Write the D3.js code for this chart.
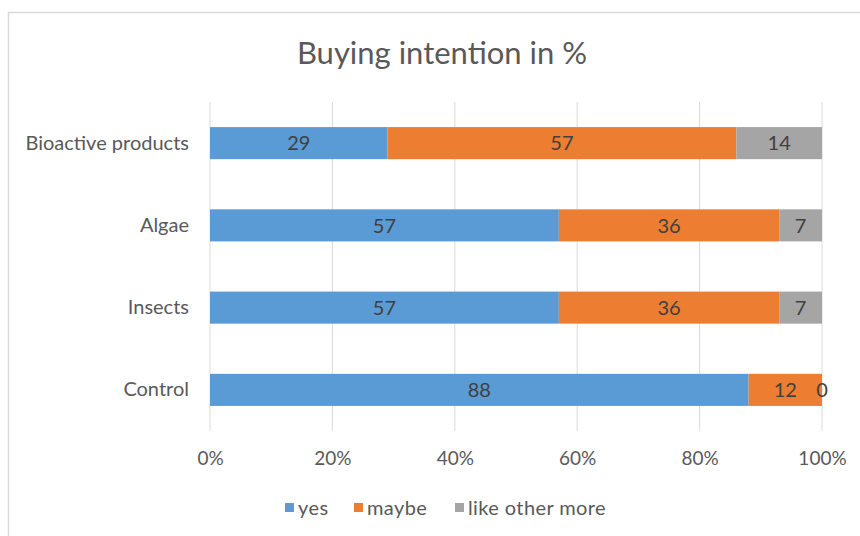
<!DOCTYPE html>
<html>
<head>
<meta charset="utf-8">
<script src="https://cdn.jsdelivr.net/npm/d3@7"></script>
<style>
  html, body { margin: 0; padding: 0; background: #fff; }
  svg { display: block; }
  text { font-family: Lato, "Open Sans", sans-serif; }
</style>
</head>
<body>
<svg id="chart" width="860" height="536"></svg>
<script>
// Product categories, top to bottom
const categories = ["Bioactive products", "Algae", "Insects", "Control"];
// Share of respondents per answer (%)
const yesValues = [29, 57, 57, 88];
const maybeValues = [57, 36, 36, 12];
const otherValues = [14, 7, 7, 0];
const seriesNames = ["yes", "maybe", "like other more"];
const seriesColors = ["#5b9bd5", "#ed7d31", "#a5a5a5"];
const tickValues = [0, 20, 40, 60, 80, 100];

const rows = categories.map((c, i) => ({
  category: c,
  "yes": yesValues[i],
  "maybe": maybeValues[i],
  "like other more": otherValues[i]
}));

const svg = d3.select("#chart");
const FONT = "Lato, 'Open Sans', sans-serif";

// Chart frame
svg.append("rect")
  .attr("x", 8.5).attr("y", 12.5)
  .attr("width", 900).attr("height", 600)
  .attr("fill", "#fff")
  .attr("stroke", "#d9d9d9").attr("stroke-width", 1.5);

const plot = { left: 210, right: 822, top: 102, bottom: 431 };

const x = d3.scaleLinear().domain([0, 100]).range([plot.left, plot.right]);
const y = d3.scaleBand().domain(categories).range([plot.top, plot.bottom]).paddingInner(0.61).paddingOuter(0.305);

// Title
svg.append("text")
  .attr("x", 442).attr("y", 64)
  .attr("text-anchor", "middle")
  .attr("font-size", 31)
  .attr("fill", "#595959")
  .text("Buying intention in %");

// Vertical gridlines
svg.append("g")
  .selectAll("line")
  .data(tickValues)
  .join("line")
  .attr("x1", d => x(d)).attr("x2", d => x(d))
  .attr("y1", plot.top).attr("y2", plot.bottom)
  .attr("stroke", "#d9d9d9").attr("stroke-width", 1);

// X axis tick labels
const xAxis = d3.axisBottom(x).tickValues(tickValues).tickFormat(d => d + "%").tickSize(0).tickPadding(0);
const gx = svg.append("g").attr("transform", `translate(0, 451)`).call(xAxis);
gx.select(".domain").remove();
gx.selectAll("text")
  .attr("font-family", FONT)
  .attr("font-size", 19).attr("fill", "#595959");

// Y axis category labels
const yAxis = d3.axisLeft(y).tickSize(0).tickPadding(0);
const gy = svg.append("g").attr("transform", `translate(189, 0)`).call(yAxis);
gy.select(".domain").remove();
gy.selectAll("text")
  .attr("font-family", FONT)
  .attr("font-size", 20).attr("fill", "#595959");

// Stacked bars
const stack = d3.stack().keys(seriesNames);
const layers = stack(rows);
const color = d3.scaleOrdinal().domain(seriesNames).range(seriesColors);

const layerG = svg.append("g").selectAll("g")
  .data(layers)
  .join("g")
  .attr("fill", d => color(d.key));

layerG.selectAll("rect")
  .data(d => d)
  .join("rect")
  .attr("x", d => x(d[0]))
  .attr("y", d => y(d.data.category))
  .attr("width", d => x(d[1]) - x(d[0]))
  .attr("height", y.bandwidth());

// Value labels centred in each segment
layerG.selectAll("text")
  .data(d => d)
  .join("text")
  .attr("x", d => (x(d[0]) + x(d[1])) / 2)
  .attr("y", d => y(d.data.category) + y.bandwidth() / 2)
  .attr("dy", "0.36em")
  .attr("text-anchor", "middle")
  .attr("font-size", 20)
  .attr("fill", "#404040")
  .text(d => d[1] - d[0]);

// Legend
const legendItems = [
  { key: "yes", x: 285 },
  { key: "maybe", x: 354 },
  { key: "like other more", x: 455 }
];
const legend = svg.append("g").selectAll("g")
  .data(legendItems)
  .join("g")
  .attr("transform", d => `translate(${d.x}, 508)`);
legend.append("rect")
  .attr("x", 0).attr("y", -5)
  .attr("width", 9).attr("height", 9)
  .attr("fill", d => color(d.key));
legend.append("text")
  .attr("x", 13).attr("y", 0)
  .attr("dy", "0.36em")
  .attr("font-size", 20)
  .attr("letter-spacing", 0.4)
  .attr("fill", "#595959")
  .text(d => d.key);
</script>
</body>
</html>
